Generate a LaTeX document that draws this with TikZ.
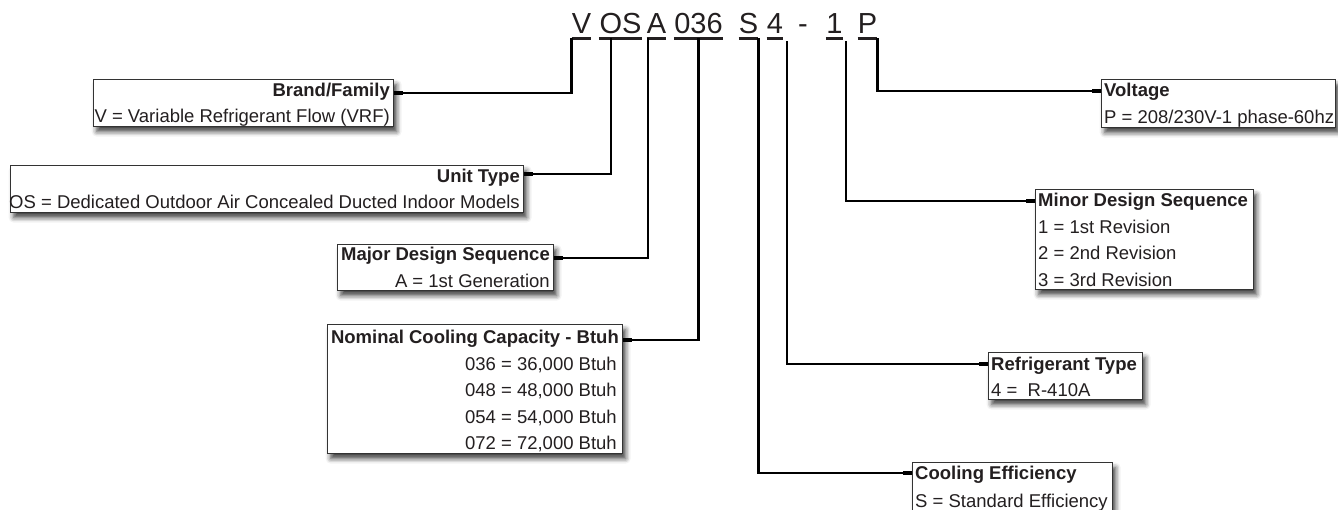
\documentclass[tikz,border=0pt]{standalone}
\usepackage{fontspec}
\setmainfont{Liberation Sans}
\usetikzlibrary{shadows.blur,calc}
\definecolor{textc}{HTML}{231F20}
\definecolor{boxc}{HTML}{333333}
\begin{document}
\begin{tikzpicture}[x=1pt,y=-1pt,
  cbox/.style={draw=boxc, line width=1.3pt, fill=white, inner sep=0, anchor=north west,
    blur shadow={shadow xshift=3pt, shadow yshift=-5pt, shadow blur radius=5pt, shadow opacity=75}},
  rtxt/.style={font=\fontsize{18.5}{21}\selectfont, inner sep=0, text=textc, anchor=base east},
  ltxt/.style={font=\fontsize{18.5}{21}\selectfont, inner sep=0, text=textc, anchor=base west},
  rttl/.style={rtxt, font=\fontsize{18.5}{21}\selectfont\bfseries},
  lttl/.style={ltxt, font=\fontsize{18.5}{21}\selectfont\bfseries},
  code/.style={font=\fontsize{29}{30}\selectfont, inner xsep=0, inner ysep=0, text depth=5pt, text=textc, anchor=base},
  uline/.style={line width=3pt, draw=textc},
  conn/.style={line width=2.4pt, draw=black},
  stub/.style={line width=4.5pt, draw=black}
]
\useasboundingbox (0,0) rectangle (1338,509);

% code letters
\node[code, minimum width=19] (cV)  at (581.5,33) {V};
\node[code, minimum width=43] (cOS) at (620.5,33) {OS};
\node[code, minimum width=19] (cA)  at (656.5,33) {A};
\node[code, minimum width=49] (c036) at (698.5,33) {036};
\node[code, minimum width=19] (cS)  at (748.5,33) {S};
\node[code, minimum width=16] (c4)  at (775,33) {4};
\node[code] (cdash) at (803,33) {-};
\node[code, minimum width=17] (c1)  at (834.5,33) {1};
\node[code, minimum width=19] (cP)  at (867.5,33) {P};
\foreach \n in {cV,cOS,cA,c036,cS,c4,c1,cP}
  \draw[uline] (\n.south west) -- (\n.south east);

\coordinate (vOS) at (611,38);
\coordinate (vA) at (648,38);
\coordinate (v036) at (698.5,38);
\coordinate (v4) at (787,41);
\coordinate (v1) at (846,41);

% boxes
\node[cbox, minimum width=300, minimum height=47] (brand) at (93,79) {};
\node[rttl] (brandT) at (390,96) {Brand/Family};
\node[rtxt] (brandL) at (390,122) {V = Variable Refrigerant Flow (VRF)};

\node[cbox, minimum width=513, minimum height=47] (unit) at (10,165) {};
\node[rttl] (unitT) at (520,182) {Unit Type};
\node[rtxt] (unitL) at (520,208) {OS = Dedicated Outdoor Air Concealed Ducted Indoor Models};

\node[cbox, minimum width=216, minimum height=46] (major) at (337,244) {};
\node[rttl] (majorT) at (550,260) {Major Design Sequence};
\node[rtxt] (majorL) at (550,287) {A = 1st Generation};

\node[cbox, minimum width=295, minimum height=129] (nom) at (327,324) {};
\node[rttl] (nomT) at (619,343) {Nominal Cooling Capacity - Btuh};
\node[rtxt] (nom1) at (617,370) {036 = 36,000 Btuh};
\node[rtxt] (nom2) at (617,396) {048 = 48,000 Btuh};
\node[rtxt] (nom3) at (617,423) {054 = 54,000 Btuh};
\node[rtxt] (nom4) at (617,449) {072 = 72,000 Btuh};

\node[cbox, minimum width=200, minimum height=60] (eff) at (912,462) {};
\node[lttl] (effT) at (915,479) {Cooling Efficiency};
\node[ltxt] (effL) at (915,507) {S = Standard Efficiency};

\node[cbox, minimum width=154, minimum height=47] (ref) at (988,352) {};
\node[lttl] (refT) at (991,370) {Refrigerant Type};
\node[ltxt] (refL) at (991,396) {4 = \ R-410A};

\node[cbox, minimum width=218, minimum height=100] (minor) at (1035,189) {};
\node[lttl] (minorT) at (1038,206) {Minor Design Sequence};
\node[ltxt] (minor1) at (1038,233) {1 = 1st Revision};
\node[ltxt] (minor2) at (1038,259) {2 = 2nd Revision};
\node[ltxt] (minor3) at (1038,286) {3 = 3rd Revision};

\node[cbox, minimum width=234, minimum height=48] (volt) at (1101,79) {};
\node[lttl] (voltT) at (1104,96) {Voltage};
\node[ltxt] (voltL) at (1104,123) {P = 208/230V-1 phase-60hz};

% connectors
\draw[conn] (cV.south west) |- ($(brand.north east)+(0,14)$);
\draw[stub] ($(brand.north east)+(0,14)$) -- ++(9,0);
\draw[conn] (vOS) |- ($(unit.north east)+(0,9)$);
\draw[stub] ($(unit.north east)+(0,9)$) -- ++(9,0);
\draw[conn] (vA) |- ($(major.north east)+(0,14)$);
\draw[stub] ($(major.north east)+(0,14)$) -- ++(9,0);
\draw[conn] (v036) |- ($(nom.north east)+(0,16)$);
\draw[stub] ($(nom.north east)+(0,16)$) -- ++(9,0);
\draw[conn] (cS.south east) |- ($(eff.north west)+(0,11)$);
\draw[stub] ($(eff.north west)+(0,11)$) -- ++(-9,0);
\draw[conn] (v4) |- ($(ref.north west)+(0,12)$);
\draw[stub] ($(ref.north west)+(0,12)$) -- ++(-9,0);
\draw[conn] (v1) |- ($(minor.north west)+(0,12)$);
\draw[stub] ($(minor.north west)+(0,12)$) -- ++(-9,0);
\draw[conn] (cP.south east) |- ($(volt.north west)+(0,12)$);
\draw[stub] ($(volt.north west)+(0,12)$) -- ++(-9,0);
\end{tikzpicture}
\end{document}
